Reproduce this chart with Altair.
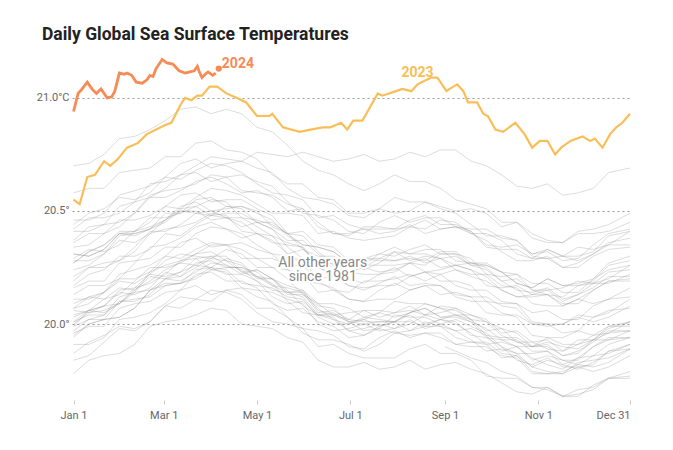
import sys
import altair as alt
import pandas as pd

# ---------------- data ----------------
DAYS = [0, 10, 20, 30, 40, 50, 60, 70, 80, 90, 100, 110, 120, 130, 140, 150, 160, 170, 180,
        190, 200, 210, 220, 230, 240, 250, 260, 270, 280, 290, 300, 310, 320, 330, 340, 350, 364]

DAYS_1981 = [243, 250, 260, 270, 280, 290, 300, 310, 320, 330, 340, 350, 364]
y1981 = [19.90, 19.88, 19.85, 19.83, 19.79, 19.77, 19.72, 19.71, 19.68, 19.71, 19.72, 19.76, 19.79]

y1982 = [19.95, 20.00, 20.02, 20.03, 20.07, 20.15, 20.18, 20.18, 20.20, 20.24, 20.23, 20.16, 20.15, 20.14, 20.11, 20.09, 20.00, 19.97, 19.98, 20.00, 19.97, 19.98, 20.02, 19.98, 20.00, 20.02, 19.99, 19.96, 19.90, 19.87, 19.87, 19.88, 19.82, 19.85, 19.90, 19.94, 19.94]
y1983 = [20.06, 20.05, 20.08, 20.15, 20.16, 20.18, 20.22, 20.28, 20.29, 20.24, 20.25, 20.25, 20.21, 20.18, 20.10, 20.05, 20.04, 20.02, 19.97, 19.95, 19.99, 20.01, 19.97, 19.99, 19.99, 19.94, 19.92, 19.92, 19.87, 19.86, 19.79, 19.78, 19.78, 19.81, 19.79, 19.81, 19.86]
y1984 = [19.87, 19.92, 19.95, 19.99, 19.98, 20.01, 20.08, 20.07, 20.11, 20.15, 20.14, 20.11, 20.05, 20.01, 20.00, 19.98, 19.90, 19.91, 19.87, 19.85, 19.85, 19.85, 19.89, 19.91, 19.87, 19.87, 19.84, 19.77, 19.76, 19.76, 19.72, 19.72, 19.68, 19.68, 19.73, 19.76, 19.77]
y1985 = [19.78, 19.84, 19.86, 19.87, 19.91, 19.99, 20.01, 20.02, 20.04, 20.07, 20.06, 20.00, 19.99, 19.98, 19.94, 19.92, 19.84, 19.81, 19.81, 19.83, 19.80, 19.81, 19.84, 19.80, 19.82, 19.83, 19.80, 19.78, 19.74, 19.70, 19.69, 19.72, 19.68, 19.69, 19.71, 19.76, 19.76]
y1986 = [19.84, 19.86, 19.92, 19.98, 19.97, 20.01, 20.08, 20.12, 20.11, 20.10, 20.15, 20.13, 20.07, 20.07, 20.03, 19.96, 19.93, 19.93, 19.91, 19.88, 19.91, 19.96, 19.95, 19.96, 19.94, 19.91, 19.92, 19.91, 19.85, 19.86, 19.81, 19.79, 19.78, 19.83, 19.84, 19.85, 19.89]
y1987 = [20.01, 20.04, 20.04, 20.12, 20.14, 20.15, 20.20, 20.21, 20.27, 20.28, 20.25, 20.25, 20.23, 20.17, 20.14, 20.14, 20.08, 20.07, 20.01, 20.02, 20.05, 20.03, 20.05, 20.09, 20.07, 20.06, 20.02, 19.97, 19.98, 19.96, 19.90, 19.92, 19.90, 19.89, 19.93, 19.98, 20.01]
y1988 = [20.09, 20.12, 20.11, 20.13, 20.19, 20.25, 20.25, 20.27, 20.31, 20.32, 20.28, 20.23, 20.24, 20.20, 20.13, 20.13, 20.07, 20.02, 20.00, 20.03, 20.02, 20.01, 20.01, 19.99, 20.02, 20.01, 19.95, 19.94, 19.90, 19.84, 19.82, 19.85, 19.81, 19.81, 19.82, 19.88, 19.89]
y1989 = [19.91, 19.91, 19.94, 20.02, 20.03, 20.05, 20.09, 20.15, 20.17, 20.13, 20.15, 20.16, 20.12, 20.10, 20.03, 19.98, 19.97, 19.95, 19.90, 19.89, 19.94, 19.97, 19.94, 19.96, 19.96, 19.91, 19.90, 19.90, 19.86, 19.85, 19.78, 19.78, 19.79, 19.82, 19.81, 19.83, 19.89]
y1990 = [19.97, 20.02, 20.04, 20.10, 20.10, 20.13, 20.20, 20.19, 20.23, 20.27, 20.26, 20.24, 20.19, 20.15, 20.14, 20.12, 20.04, 20.05, 20.01, 20.00, 20.01, 20.01, 20.05, 20.07, 20.03, 20.04, 20.02, 19.95, 19.94, 19.94, 19.90, 19.90, 19.86, 19.87, 19.93, 19.96, 19.97]
y1991 = [20.03, 20.06, 20.05, 20.09, 20.16, 20.22, 20.21, 20.23, 20.26, 20.30, 20.30, 20.23, 20.21, 20.20, 20.17, 20.15, 20.06, 20.04, 20.05, 20.06, 20.03, 20.05, 20.08, 20.04, 20.05, 20.07, 20.04, 20.01, 19.95, 19.92, 19.92, 19.93, 19.88, 19.91, 19.95, 19.99, 19.99]
y1992 = [20.04, 20.06, 20.11, 20.16, 20.15, 20.19, 20.24, 20.27, 20.26, 20.25, 20.29, 20.27, 20.20, 20.20, 20.15, 20.08, 20.04, 20.04, 20.01, 19.97, 19.98, 20.04, 20.03, 20.03, 20.00, 19.97, 19.98, 19.95, 19.88, 19.90, 19.85, 19.82, 19.80, 19.85, 19.86, 19.87, 19.91]
y1993 = [19.96, 19.99, 19.99, 20.07, 20.09, 20.10, 20.14, 20.15, 20.22, 20.23, 20.19, 20.19, 20.16, 20.09, 20.06, 20.07, 20.01, 19.99, 19.94, 19.95, 19.98, 19.96, 19.97, 20.01, 19.99, 19.97, 19.93, 19.88, 19.89, 19.87, 19.81, 19.84, 19.82, 19.80, 19.83, 19.88, 19.91]
y1994 = [19.94, 20.00, 20.02, 20.03, 20.07, 20.15, 20.17, 20.18, 20.21, 20.25, 20.24, 20.18, 20.17, 20.16, 20.12, 20.11, 20.03, 20.00, 20.00, 20.02, 19.99, 20.01, 20.04, 20.00, 20.02, 20.04, 20.01, 19.98, 19.93, 19.90, 19.90, 19.91, 19.86, 19.88, 19.92, 19.97, 19.97]
y1995 = [20.07, 20.09, 20.14, 20.19, 20.18, 20.22, 20.28, 20.31, 20.30, 20.29, 20.33, 20.31, 20.25, 20.25, 20.20, 20.13, 20.09, 20.09, 20.07, 20.03, 20.05, 20.10, 20.09, 20.09, 20.07, 20.04, 20.04, 20.02, 19.96, 19.97, 19.92, 19.89, 19.88, 19.93, 19.93, 19.93, 19.97]
y1996 = [19.99, 20.02, 20.02, 20.10, 20.11, 20.12, 20.17, 20.18, 20.24, 20.25, 20.22, 20.22, 20.19, 20.12, 20.09, 20.10, 20.04, 20.03, 19.97, 19.98, 20.00, 19.98, 20.00, 20.04, 20.02, 20.00, 19.96, 19.91, 19.92, 19.90, 19.84, 19.86, 19.84, 19.82, 19.86, 19.91, 19.94]
y1997 = [19.99, 20.06, 20.08, 20.09, 20.14, 20.23, 20.26, 20.28, 20.31, 20.35, 20.35, 20.29, 20.29, 20.29, 20.26, 20.26, 20.19, 20.15, 20.14, 20.19, 20.19, 20.20, 20.22, 20.19, 20.22, 20.24, 20.21, 20.19, 20.15, 20.12, 20.13, 20.15, 20.10, 20.13, 20.18, 20.23, 20.24]
y1998 = [20.31, 20.30, 20.33, 20.40, 20.40, 20.42, 20.45, 20.50, 20.50, 20.46, 20.47, 20.47, 20.43, 20.39, 20.31, 20.26, 20.25, 20.22, 20.17, 20.15, 20.18, 20.21, 20.17, 20.18, 20.17, 20.12, 20.10, 20.10, 20.05, 20.03, 19.95, 19.94, 19.94, 19.97, 19.95, 19.96, 20.01]
y1999 = [20.01, 20.06, 20.08, 20.14, 20.13, 20.16, 20.23, 20.21, 20.25, 20.29, 20.28, 20.26, 20.21, 20.17, 20.16, 20.14, 20.05, 20.06, 20.02, 20.01, 20.01, 20.01, 20.05, 20.07, 20.03, 20.03, 20.01, 19.94, 19.93, 19.93, 19.88, 19.88, 19.84, 19.84, 19.90, 19.93, 19.94]
y2000 = [20.00, 20.05, 20.06, 20.09, 20.15, 20.21, 20.20, 20.23, 20.29, 20.30, 20.26, 20.22, 20.24, 20.20, 20.14, 20.15, 20.09, 20.04, 20.02, 20.06, 20.06, 20.05, 20.06, 20.04, 20.08, 20.07, 20.02, 20.01, 19.98, 19.92, 19.90, 19.94, 19.91, 19.91, 19.93, 19.99, 20.01]
y2001 = [20.11, 20.11, 20.14, 20.22, 20.24, 20.26, 20.30, 20.36, 20.38, 20.34, 20.35, 20.36, 20.33, 20.31, 20.24, 20.19, 20.18, 20.16, 20.11, 20.10, 20.15, 20.18, 20.15, 20.17, 20.17, 20.13, 20.12, 20.12, 20.08, 20.07, 20.00, 19.99, 20.00, 20.04, 20.03, 20.05, 20.11]
y2002 = [20.17, 20.22, 20.24, 20.30, 20.30, 20.33, 20.40, 20.39, 20.44, 20.48, 20.47, 20.45, 20.40, 20.36, 20.35, 20.34, 20.26, 20.27, 20.23, 20.22, 20.22, 20.23, 20.27, 20.29, 20.25, 20.26, 20.24, 20.17, 20.16, 20.17, 20.13, 20.13, 20.09, 20.09, 20.15, 20.19, 20.20]
y2003 = [20.29, 20.33, 20.32, 20.35, 20.41, 20.47, 20.47, 20.49, 20.52, 20.55, 20.54, 20.47, 20.46, 20.44, 20.40, 20.39, 20.32, 20.27, 20.26, 20.29, 20.28, 20.28, 20.30, 20.27, 20.29, 20.30, 20.26, 20.24, 20.19, 20.15, 20.14, 20.16, 20.11, 20.13, 20.16, 20.21, 20.21]
y2004 = [20.24, 20.26, 20.31, 20.37, 20.36, 20.40, 20.46, 20.50, 20.49, 20.48, 20.52, 20.51, 20.45, 20.45, 20.40, 20.33, 20.30, 20.30, 20.27, 20.24, 20.27, 20.32, 20.31, 20.31, 20.29, 20.26, 20.27, 20.25, 20.19, 20.20, 20.15, 20.13, 20.12, 20.17, 20.18, 20.18, 20.22]
y2005 = [20.27, 20.32, 20.35, 20.40, 20.39, 20.42, 20.49, 20.49, 20.55, 20.56, 20.52, 20.52, 20.50, 20.43, 20.40, 20.41, 20.35, 20.34, 20.28, 20.29, 20.31, 20.30, 20.33, 20.35, 20.31, 20.31, 20.29, 20.22, 20.21, 20.22, 20.18, 20.18, 20.14, 20.14, 20.20, 20.24, 20.26]
y2006 = [20.21, 20.25, 20.25, 20.28, 20.34, 20.41, 20.41, 20.44, 20.49, 20.50, 20.47, 20.43, 20.45, 20.42, 20.37, 20.37, 20.31, 20.26, 20.25, 20.29, 20.29, 20.28, 20.29, 20.28, 20.32, 20.32, 20.27, 20.26, 20.23, 20.18, 20.16, 20.20, 20.17, 20.17, 20.19, 20.26, 20.28]
y2007 = [20.31, 20.30, 20.33, 20.40, 20.41, 20.43, 20.46, 20.51, 20.52, 20.48, 20.49, 20.49, 20.45, 20.42, 20.34, 20.29, 20.28, 20.25, 20.20, 20.18, 20.22, 20.25, 20.21, 20.23, 20.22, 20.17, 20.15, 20.15, 20.10, 20.09, 20.01, 20.00, 20.00, 20.03, 20.01, 20.03, 20.08]
y2008 = [20.07, 20.12, 20.14, 20.20, 20.20, 20.23, 20.30, 20.29, 20.33, 20.36, 20.35, 20.33, 20.29, 20.25, 20.24, 20.22, 20.14, 20.15, 20.11, 20.10, 20.11, 20.11, 20.15, 20.17, 20.13, 20.14, 20.12, 20.05, 20.04, 20.04, 20.00, 20.00, 19.96, 19.97, 20.03, 20.06, 20.07]
y2009 = [20.13, 20.17, 20.17, 20.20, 20.27, 20.34, 20.35, 20.38, 20.43, 20.45, 20.42, 20.38, 20.40, 20.37, 20.31, 20.33, 20.28, 20.23, 20.22, 20.26, 20.26, 20.26, 20.27, 20.26, 20.31, 20.31, 20.26, 20.26, 20.23, 20.18, 20.16, 20.20, 20.17, 20.18, 20.20, 20.27, 20.30]
y2010 = [20.34, 20.35, 20.40, 20.46, 20.46, 20.48, 20.52, 20.57, 20.58, 20.54, 20.55, 20.55, 20.51, 20.48, 20.40, 20.35, 20.34, 20.32, 20.27, 20.25, 20.29, 20.32, 20.28, 20.30, 20.29, 20.24, 20.22, 20.22, 20.17, 20.16, 20.09, 20.08, 20.08, 20.11, 20.09, 20.11, 20.16]
y2011 = [20.16, 20.19, 20.19, 20.27, 20.28, 20.29, 20.34, 20.34, 20.40, 20.43, 20.42, 20.40, 20.35, 20.31, 20.30, 20.28, 20.20, 20.21, 20.17, 20.16, 20.17, 20.17, 20.21, 20.23, 20.19, 20.19, 20.17, 20.10, 20.09, 20.09, 20.05, 20.06, 20.02, 20.02, 20.08, 20.11, 20.12]
y2012 = [20.19, 20.25, 20.27, 20.28, 20.32, 20.40, 20.42, 20.43, 20.45, 20.49, 20.48, 20.41, 20.40, 20.39, 20.36, 20.34, 20.25, 20.22, 20.23, 20.25, 20.23, 20.24, 20.27, 20.23, 20.24, 20.26, 20.24, 20.21, 20.15, 20.12, 20.12, 20.13, 20.08, 20.11, 20.15, 20.19, 20.19]
y2013 = [20.28, 20.28, 20.31, 20.39, 20.40, 20.42, 20.46, 20.52, 20.54, 20.50, 20.51, 20.52, 20.49, 20.46, 20.39, 20.35, 20.34, 20.32, 20.27, 20.26, 20.31, 20.34, 20.31, 20.33, 20.33, 20.28, 20.27, 20.27, 20.23, 20.22, 20.15, 20.15, 20.16, 20.19, 20.18, 20.20, 20.26]
y2014 = [20.27, 20.32, 20.35, 20.41, 20.41, 20.45, 20.52, 20.51, 20.56, 20.60, 20.59, 20.57, 20.53, 20.49, 20.49, 20.48, 20.40, 20.41, 20.38, 20.37, 20.38, 20.39, 20.43, 20.46, 20.42, 20.43, 20.41, 20.35, 20.34, 20.35, 20.31, 20.32, 20.28, 20.29, 20.35, 20.40, 20.42]
y2015 = [20.42, 20.47, 20.47, 20.49, 20.54, 20.62, 20.63, 20.66, 20.70, 20.74, 20.73, 20.72, 20.76, 20.75, 20.74, 20.76, 20.74, 20.72, 20.73, 20.75, 20.72, 20.73, 20.76, 20.74, 20.77, 20.77, 20.72, 20.70, 20.66, 20.61, 20.60, 20.62, 20.57, 20.58, 20.60, 20.67, 20.69]
y2016 = [20.70, 20.71, 20.75, 20.82, 20.83, 20.86, 20.90, 20.95, 20.96, 20.93, 20.95, 20.93, 20.87, 20.85, 20.79, 20.72, 20.68, 20.66, 20.62, 20.59, 20.62, 20.66, 20.63, 20.63, 20.60, 20.55, 20.53, 20.51, 20.45, 20.45, 20.38, 20.36, 20.36, 20.40, 20.40, 20.41, 20.45]
y2017 = [20.44, 20.49, 20.51, 20.56, 20.55, 20.58, 20.65, 20.64, 20.68, 20.71, 20.70, 20.67, 20.62, 20.58, 20.57, 20.55, 20.47, 20.48, 20.44, 20.42, 20.42, 20.42, 20.46, 20.48, 20.44, 20.44, 20.41, 20.34, 20.33, 20.33, 20.29, 20.29, 20.25, 20.25, 20.30, 20.33, 20.34]
y2018 = [20.36, 20.40, 20.40, 20.43, 20.49, 20.56, 20.56, 20.59, 20.63, 20.65, 20.62, 20.58, 20.59, 20.56, 20.50, 20.51, 20.45, 20.40, 20.39, 20.43, 20.43, 20.42, 20.43, 20.42, 20.46, 20.45, 20.40, 20.40, 20.37, 20.31, 20.29, 20.33, 20.30, 20.30, 20.32, 20.39, 20.41]
y2019 = [20.46, 20.46, 20.49, 20.57, 20.59, 20.61, 20.65, 20.71, 20.73, 20.69, 20.71, 20.72, 20.69, 20.67, 20.60, 20.56, 20.55, 20.53, 20.48, 20.47, 20.51, 20.56, 20.54, 20.54, 20.52, 20.50, 20.51, 20.49, 20.43, 20.45, 20.40, 20.37, 20.36, 20.41, 20.42, 20.44, 20.49]
y2020 = [20.58, 20.60, 20.60, 20.67, 20.68, 20.69, 20.74, 20.74, 20.80, 20.81, 20.77, 20.76, 20.73, 20.66, 20.62, 20.62, 20.56, 20.55, 20.49, 20.49, 20.51, 20.49, 20.50, 20.54, 20.51, 20.49, 20.44, 20.39, 20.39, 20.37, 20.31, 20.33, 20.30, 20.28, 20.31, 20.36, 20.38]
y2021 = [20.37, 20.43, 20.44, 20.45, 20.49, 20.57, 20.59, 20.60, 20.62, 20.66, 20.65, 20.59, 20.58, 20.57, 20.53, 20.51, 20.43, 20.40, 20.40, 20.42, 20.40, 20.41, 20.44, 20.40, 20.42, 20.43, 20.40, 20.37, 20.32, 20.28, 20.28, 20.30, 20.25, 20.27, 20.31, 20.35, 20.35]
y2022 = [20.41, 20.41, 20.44, 20.52, 20.54, 20.56, 20.60, 20.66, 20.67, 20.63, 20.65, 20.66, 20.63, 20.61, 20.54, 20.49, 20.48, 20.46, 20.41, 20.40, 20.45, 20.48, 20.45, 20.47, 20.47, 20.43, 20.42, 20.42, 20.38, 20.37, 20.30, 20.29, 20.30, 20.34, 20.33, 20.35, 20.41]

DAYS_2023 = [0, 4, 9, 14, 20, 24, 29, 35, 42, 48, 60, 64, 70, 73, 77, 81, 84, 89, 94, 100,
             107, 113, 120, 128, 130, 137, 148, 155, 163, 168, 175, 179, 183, 189, 194, 199, 202, 211, 215, 221,
             225, 228, 234, 238, 244, 246, 251, 255, 258, 264, 268, 271, 276, 281, 289, 295, 300, 305, 310, 315,
             319, 325, 333, 338, 341, 346, 351, 355, 359, 364]
T2023 = [20.55, 20.53, 20.65, 20.66, 20.72, 20.70, 20.73, 20.78, 20.80, 20.84, 20.88, 20.89, 20.97, 21.00, 20.99, 21.01, 21.01, 21.05, 21.05, 21.02,
         21.00, 20.98, 20.92, 20.92, 20.93, 20.87, 20.85, 20.86, 20.87, 20.87, 20.89, 20.86, 20.90, 20.90, 20.96, 21.02, 21.01, 21.03, 21.04, 21.03,
         21.06, 21.07, 21.09, 21.09, 21.03, 21.04, 21.06, 21.03, 20.98, 20.98, 20.93, 20.92, 20.86, 20.85, 20.89, 20.84, 20.78, 20.81, 20.81, 20.75,
         20.78, 20.81, 20.83, 20.81, 20.82, 20.78, 20.84, 20.87, 20.89, 20.93]

DAYS_2024 = [0, 3, 5, 9, 12, 15, 18, 22, 25, 27, 30, 33, 35, 38, 41, 45, 48, 50, 52, 54,
             58, 61, 65, 69, 73, 76, 79, 81, 82, 84, 87, 88, 91, 93]
T2024 = [20.94, 21.02, 21.035, 21.07, 21.04, 21.02, 21.04, 21.00, 21.005, 21.03, 21.11, 21.105, 21.11, 21.10, 21.07, 21.065, 21.08, 21.10, 21.095, 21.13,
         21.17, 21.155, 21.15, 21.12, 21.11, 21.115, 21.12, 21.14, 21.12, 21.09, 21.11, 21.115, 21.10, 21.11]
END_2024_DAY = [95]
END_2024_T = [21.13]

LABEL_2024 = ["2024"]
LABEL_2024_DAY = [97]
LABEL_2024_T = [21.152]
LABEL_2023 = ["2023"]
LABEL_2023_DAY = [225]
LABEL_2023_T = [21.112]

NOTE_TEXT = ["All other years", "since 1981"]
NOTE_DAY = [163, 163]
NOTE_T = [20.272, 20.207]

TICK_DAYS = [0, 59, 120, 181, 243, 304, 364]
TICK_LABELS = ["Jan 1", "Mar 1", "May 1", "Jul 1", "Sep 1", "Nov 1", "Dec 31"]
GRID_VALUES = [20.0, 20.5, 21.0]

C2024 = "#F68B55"
C2023 = "#F9BE58"

# ---------------- tables ----------------
gray_series = {
    1982: y1982, 1983: y1983, 1984: y1984, 1985: y1985, 1986: y1986, 1987: y1987,
    1988: y1988, 1989: y1989, 1990: y1990, 1991: y1991, 1992: y1992, 1993: y1993,
    1994: y1994, 1995: y1995, 1996: y1996, 1997: y1997, 1998: y1998, 1999: y1999,
    2000: y2000, 2001: y2001, 2002: y2002, 2003: y2003, 2004: y2004, 2005: y2005,
    2006: y2006, 2007: y2007, 2008: y2008, 2009: y2009, 2010: y2010, 2011: y2011,
    2012: y2012, 2013: y2013, 2014: y2014, 2015: y2015, 2016: y2016, 2017: y2017,
    2018: y2018, 2019: y2019, 2020: y2020, 2021: y2021, 2022: y2022,
}
rows = [{"year": 1981, "day": d, "temp": t} for d, t in zip(DAYS_1981, y1981)]
for yr, vals in gray_series.items():
    if len(vals) != len(DAYS):
        print(f"length mismatch {yr}: {len(vals)}", file=sys.stderr)
    rows += [{"year": yr, "day": d, "temp": t} for d, t in zip(DAYS, vals)]
gray_df = pd.DataFrame(rows)

df23 = pd.DataFrame({"day": DAYS_2023, "temp": T2023})
df24 = pd.DataFrame({"day": DAYS_2024, "temp": T2024})
dot24 = pd.DataFrame({"day": END_2024_DAY, "temp": END_2024_T})
lab24 = pd.DataFrame({"day": LABEL_2024_DAY, "temp": LABEL_2024_T, "label": LABEL_2024})
lab23 = pd.DataFrame({"day": LABEL_2023_DAY, "temp": LABEL_2023_T, "label": LABEL_2023})
note_df = pd.DataFrame({"day": NOTE_DAY, "temp": NOTE_T, "label": NOTE_TEXT})

FONT = "Roboto"
xscale = alt.Scale(domain=[-1, 364], nice=False, zero=False)
yscale = alt.Scale(domain=[19.664, 21.212], nice=False, zero=False)

label_expr = " : ".join(
    f"datum.value == {d} ? '{l}'" for d, l in zip(TICK_DAYS[:-1], TICK_LABELS[:-1])
) + f" : '{TICK_LABELS[-1]}'"

xaxis = alt.Axis(values=TICK_DAYS, labelExpr=label_expr, grid=False, domain=False,
                 ticks=True, tickSize=4, tickColor="#c8c8c8", labelPadding=5,
                 labelColor="#666", labelFontSize=11, labelFont=FONT, title=None)
yaxis = alt.Axis(values=GRID_VALUES, grid=True, gridDash=[2, 3], gridColor="#9a9a9a",
                 gridWidth=1, domain=False, ticks=False, labelPadding=3,
                 labelExpr="datum.value == 21 ? '21.0°C' : format(datum.value, '.1f') + '°'",
                 labelColor="#666", labelFontSize=11, labelFont=FONT, title=None)

X = alt.X("day:Q", scale=xscale, axis=xaxis)
Y = alt.Y("temp:Q", scale=yscale, axis=yaxis)
Xn = alt.X("day:Q", scale=xscale)
Yn = alt.Y("temp:Q", scale=yscale)

gray = alt.Chart(gray_df).mark_line(stroke="#8c8c8c", strokeWidth=1, opacity=0.3).encode(
    x=X, y=Y, detail="year:N")

line23 = alt.Chart(df23).mark_line(stroke=C2023, strokeWidth=2.2).encode(x=Xn, y=Yn)
line24 = alt.Chart(df24).mark_line(stroke=C2024, strokeWidth=2.8).encode(x=Xn, y=Yn)
dot = alt.Chart(dot24).mark_circle(color=C2024, opacity=1, size=40).encode(x=Xn, y=Yn)

label24 = alt.Chart(lab24).mark_text(fontWeight="bold", fontSize=14, font=FONT, align="left",
                                     baseline="middle", color=C2024).encode(x=Xn, y=Yn, text="label:N")
label23 = alt.Chart(lab23).mark_text(fontWeight="bold", fontSize=14, font=FONT, align="center",
                                     baseline="middle", color=C2023).encode(x=Xn, y=Yn, text="label:N")

note_halo = alt.Chart(note_df).mark_text(fontSize=14, font=FONT, stroke="white", strokeWidth=4,
                                         color="white", baseline="middle").encode(x=Xn, y=Yn, text="label:N")
note = alt.Chart(note_df).mark_text(fontSize=14, font=FONT, color="#888",
                                    baseline="middle").encode(x=Xn, y=Yn, text="label:N")

chart = alt.layer(gray, line23, line24, dot, label24, label23, note_halo, note).properties(
    width=558, height=350,
    padding={"left": 72, "top": 50, "right": 43, "bottom": 50},
    autosize=alt.AutoSizeParams(type="none"),
    title=alt.TitleParams("Daily Global Sea Surface Temperatures", anchor="start", frame="group",
                          dx=-30, offset=7, fontSize=17.5, font=FONT, fontWeight="bold",
                          color="#222"),
).configure_view(stroke=None)

chart.save("out.html", embed_options={"renderer": "svg", "actions": False})
